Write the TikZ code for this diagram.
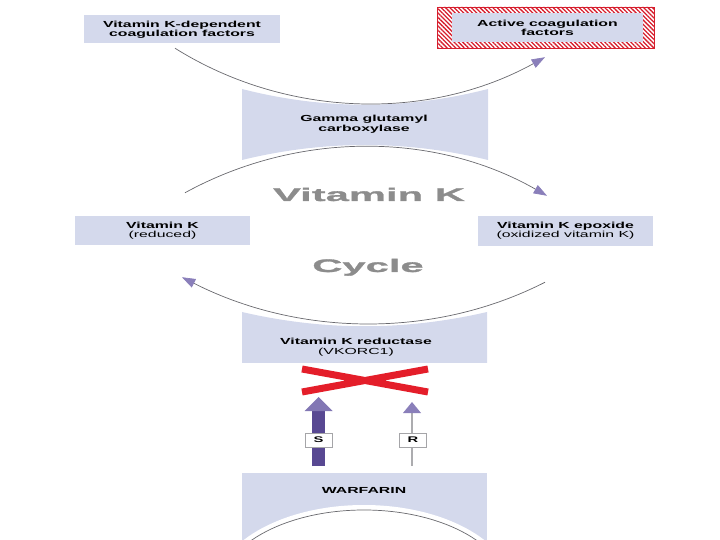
\documentclass[tikz,border=0pt]{standalone}
\usepackage{fontspec}
\usetikzlibrary{arrows.meta,calc,patterns.meta}
\newfontfamily\boxfont[FakeStretch=1.8]{Liberation Sans}
\newfontfamily\cyclefont[FakeStretch=2.3,FakeBold=1.5]{Liberation Sans}

\begin{document}
\begin{tikzpicture}[x=0.03cm, y=-0.03cm,
  box/.style={fill=colorBox, minimum width=5.25cm, minimum height=0.87cm, inner sep=0pt, align=center, font=\boxfont\bfseries\fontsize{7.5}{7.8}\selectfont},
  txt/.style={align=center, inner sep=0pt, font=\boxfont\bfseries\fontsize{7.5}{8.4}\selectfont},
  ciclo/.style={draw=colorLinea, line width=0.6pt, -{Triangle[length=0.4cm, width=0.28cm, color=colorPunta]}},
  titolo/.style={text=colorTitolo, anchor=base, inner sep=0pt, font=\cyclefont\bfseries\fontsize{15.5}{18}\selectfont},
  tag/.style={draw=colorLinea!60, fill=white, minimum width=0.81cm, minimum height=0.42cm, inner sep=0pt, font=\boxfont\bfseries\fontsize{7}{8}\selectfont}
  ]
  % Colori
  \definecolor{colorBox}{RGB}{212, 217, 236}
  \definecolor{colorLinea}{RGB}{105, 105, 110}
  \definecolor{colorPunta}{RGB}{138, 127, 186}
  \definecolor{colorTitolo}{RGB}{140, 140, 140}
  \definecolor{colorRetino}{RGB}{214, 30, 45}
  \definecolor{colorCroce}{RGB}{228, 30, 42}
  \definecolor{colorS}{RGB}{88, 72, 146}

  \useasboundingbox (0,0) rectangle (720,540);

  % Fattori della coagulazione
  \node[box, minimum width=5.88cm, minimum height=0.84cm] (vkdep) at (182,29.5) {Vitamin K-dependent\\coagulation factors};
  \node[box, minimum width=5.73cm] (active) at (547.5,27.5) {Active coagulation\\factors};
  \fill[pattern={Lines[angle=-45,distance=2.6pt,line width=1.1pt]}, pattern color=colorRetino, even odd rule]
    (437,7) rectangle (654,48) (active.south west) rectangle (active.north east);
  \draw[colorRetino, line width=0.8pt] (437,7) rectangle (654,48);

  % Carbossilasi
  \fill[colorBox] (242,89) .. controls (324,110) and (406,110) .. (488,89) -- (488,160)
    .. controls (406,140) and (324,140) .. (242,160) -- cycle;
  \node[txt] (gamma) at (364,124) {Gamma glutamyl\\carboxylase};

  % Vitamina K
  \node[box] (reduced) at (162.5,230.5) {Vitamin K\\{\mdseries(reduced)}};
  \node[box, minimum height=0.9cm] (epoxide) at (565.5,231) {Vitamin K epoxide\\{\mdseries(oxidized vitamin K)}};
  \node[titolo] (titoloA) at (369,201) {Vitamin K};
  \node[titolo] (titoloB) at (368,272) {Cycle};

  % Riduttasi
  \fill[colorBox] (242,312) .. controls (324,331) and (405,331) .. (487,312) -- (487,363) -- (242,363) -- cycle;
  \node[txt] (reductase) at (356,347) {Vitamin K reductase\\{\mdseries(VKORC1)}};

  % Warfarin
  \node[fill=colorBox, minimum width=7.35cm, minimum height=2.61cm, anchor=north] (warfarin) at (364.5,473) {};
  \begin{scope}
    \clip (warfarin.north west) rectangle (warfarin.south east);
    \fill[white] (364,592) ellipse [x radius=150, y radius=87];
    \draw[colorLinea, line width=0.6pt] (364,592) ellipse [x radius=145, y radius=82];
  \end{scope}
  \node[txt, anchor=base] (warfarintxt) at (364,493) {WARFARIN};

  % Frecce del ciclo
  \draw[ciclo] ($(vkdep.south)+(-7,4.5)$) .. controls +(112,70) and +(-116,64) .. ($(active.south)+(-2.5,15)$);
  \draw[ciclo] ($(reduced.north)+(22.5,-23)$) .. controls +(113,-62) and +(-112,-64) .. ($(epoxide.north)+(-18.5,-20)$);
  \draw[ciclo] ($(epoxide.south)+(-20.5,36)$) .. controls +(-114,58) and +(114,58) .. ($(reduced.south)+(19.5,32)$);

  % Blocco
  \coordinate (croce) at (365,380.5);
  \draw[colorCroce, line width=0.21cm] ($(croce)+(-63,-11.5)$) -- ($(croce)+(63,11.5)$)
    ($(croce)+(-63,11.5)$) -- ($(croce)+(63,-11.5)$);

  % Enantiomeri
  \draw[colorS, line width=0.39cm, -{Triangle[length=0.42cm, width=0.84cm, line width=0pt, color=colorPunta!85!colorS]}]
    ($(warfarin.north)+(-46,-7)$) -- ($(croce)+(-46.5,16.5)$);
  \draw[colorLinea!55, line width=0.06cm, -{Triangle[length=0.33cm, width=0.54cm, line width=0pt, color=colorPunta]}]
    ($(warfarin.north)+(47.5,-7)$) -- ($(croce)+(47,21.5)$);
  \node[tag] (sTag) at (318.5,440) {S};
  \node[tag] (rTag) at (413,440) {R};
\end{tikzpicture}
\end{document}
